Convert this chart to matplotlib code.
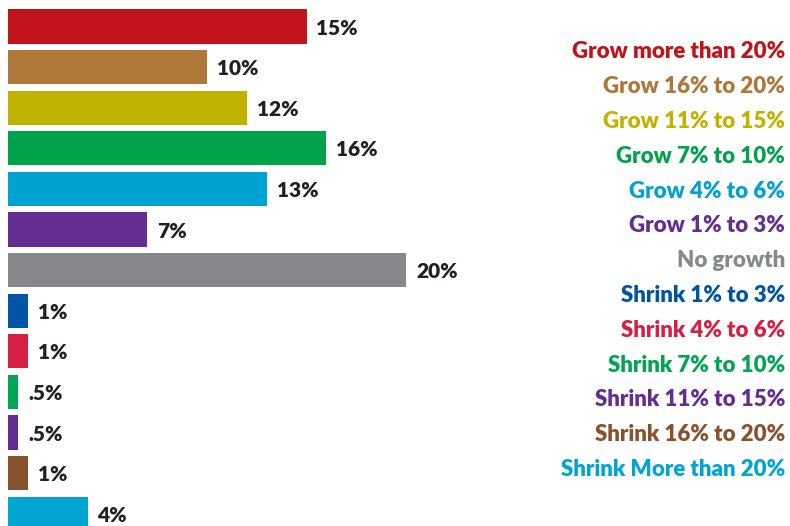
import matplotlib.pyplot as plt
import numpy as np

# Share of respondents per expected growth band
bands = ['Grow more than 20%', 'Grow 16% to 20%', 'Grow 11% to 15%', 'Grow 7% to 10%',
         'Grow 4% to 6%', 'Grow 1% to 3%', 'No growth', 'Shrink 1% to 3%',
         'Shrink 4% to 6%', 'Shrink 7% to 10%', 'Shrink 11% to 15%',
         'Shrink 16% to 20%', 'Shrink More than 20%']
shares = [15, 10, 12, 16, 13, 7, 20, 1, 1, 0.5, 0.5, 1, 4]
share_labels = ['15%', '10%', '12%', '16%', '13%', '7%', '20%', '1%', '1%',
                '.5%', '.5%', '1%', '4%']
colors = ['#C1131A', '#AE783A', '#BFB300', '#00A34B', '#00A2D3', '#662D91',
          '#87888C', '#0054A6', '#D51F45', '#00A651', '#662D91', '#88522C',
          '#00A5D2']

FONT = 'Lato'
fig = plt.figure(figsize=(7.9, 5.26), dpi=100)
ax = fig.add_axes([0, 0, 1, 1])

ypos = np.arange(len(shares))
ax.barh(ypos, shares, height=0.84, color=colors, left=0)
for y, v, lab in zip(ypos, shares, share_labels):
    ax.text(v + 0.5, y + 0.04, lab, va='center', ha='left', fontsize=15,
            fontweight='heavy', family=FONT, color='#231F20')

# 1% ~ 19.9 px, bars start 8 px from the left edge
px = 19.9
ax.set_xlim(-8 / px, (790 - 8) / px)
pitch = 40.6
ax.set_ylim((526 - 26.5) / pitch, -26.5 / pitch)
ax.axis('off')

# colored legend text on the right
y0, step = 1 - 52 / 526, 34.8 / 526
for i, (name, c) in enumerate(zip(bands, colors)):
    fig.text(0.994, y0 - i * step, name, ha='right', va='center', fontsize=16,
             fontweight='heavy', family=FONT, color=c)

fig.savefig('out.png', dpi=100)
